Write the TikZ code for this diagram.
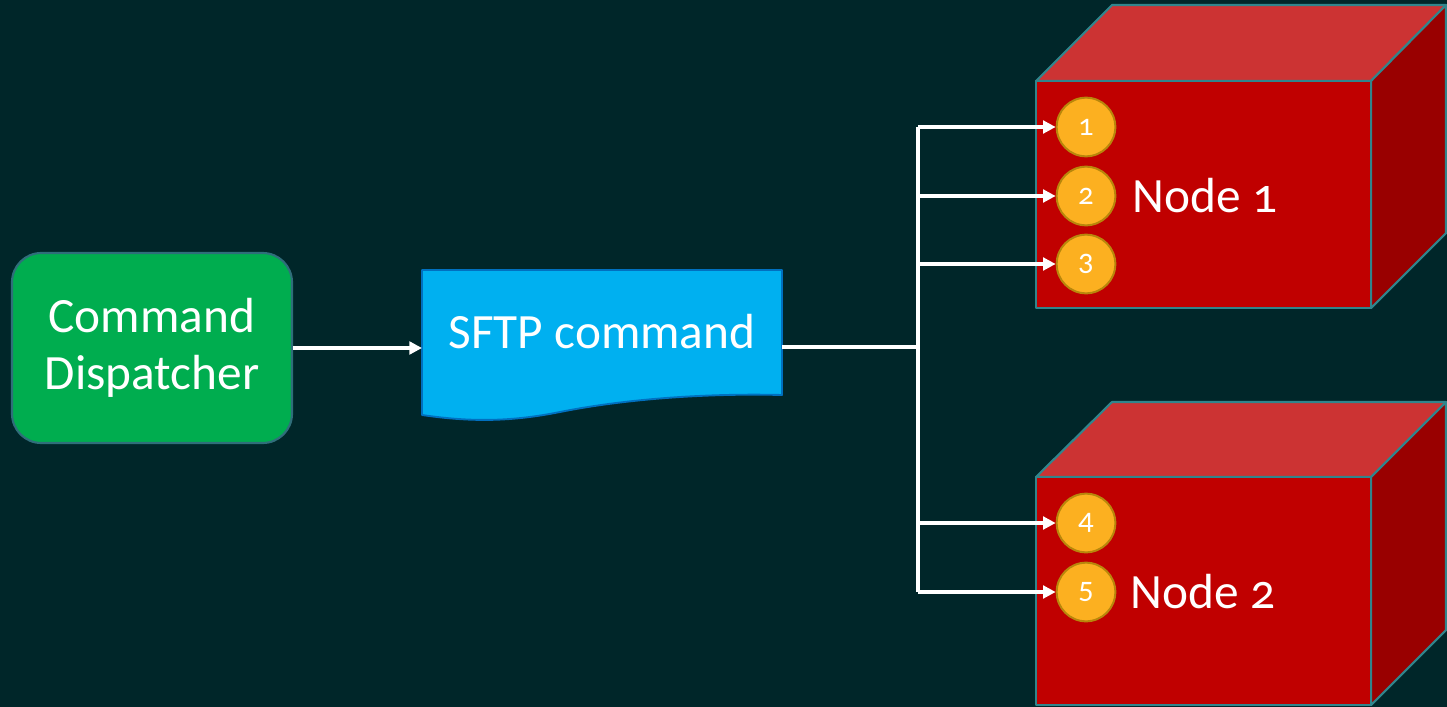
\documentclass[tikz,border=0pt]{standalone}
\usepackage{fontspec}
\setmainfont{Carlito}[Numbers=OldStyle]
\usetikzlibrary{arrows.meta}
\definecolor{bg}{RGB}{0,38,41}
\definecolor{greenbox}{RGB}{0,173,79}
\definecolor{greenedge}{RGB}{47,110,122}
\definecolor{docfill}{RGB}{0,176,240}
\definecolor{docedge}{RGB}{0,112,192}
\definecolor{cubefront}{RGB}{192,0,0}
\definecolor{cubetop}{RGB}{204,51,51}
\definecolor{cubeside}{RGB}{153,0,0}
\definecolor{cubeedge}{RGB}{49,133,140}
\definecolor{dotfill}{RGB}{252,176,32}
\definecolor{dotedge}{RGB}{184,134,11}
\tikzset{
  px/.style={x=0.75pt,y=-0.75pt},
  conn/.style={draw=white,line width=2.4pt},
  arr/.style={conn,-{Triangle[width=9.5pt,length=9.5pt]}},
  dot/.style={circle,fill=dotfill,draw=dotedge,line width=1.5pt,minimum size=44pt,inner sep=0pt,text=white,font=\fontsize{23}{25}\selectfont},
  cubeline/.style={draw=cubeedge,line width=1.6pt,line join=round},
  bigtext/.style={text=white,font=\fontsize{37}{43}\selectfont},
}
\begin{document}
\begin{tikzpicture}[px]
\fill[bg] (0,0) rectangle (1447,707);
\useasboundingbox (0,0) rectangle (1447,707);
% Command Dispatcher
\node[draw=greenedge,fill=greenbox,line width=1.6pt,rounded corners=22pt,minimum width=210pt,minimum height=142.5pt,align=center,bigtext] (cd) at (152,348) {Command\\Dispatcher};
% SFTP document
\path[fill=docfill,draw=docedge,line width=1.4pt,line join=round] (422,270) -- (782,270) -- (782,395)
  .. controls (700,393) and (620,400) .. (560,412)
  .. controls (510,422) and (470,422) .. (422,415) -- cycle;
\node[bigtext] (sftp) at (602,332) {SFTP command};
\coordinate (sftpin) at (422,348);
\coordinate (sftpout) at (782,347);
\coordinate (split) at (918,347);
% Cube 1
\path[fill=cubetop,cubeline] (1036,81) -- (1112,5) -- (1446,5) -- (1371,81) -- cycle;
\path[fill=cubeside,cubeline] (1371,81) -- (1446,5) -- (1446,233) -- (1371,308) -- cycle;
\path[fill=cubefront,cubeline] (1036,81) rectangle (1371,308);
% Cube 2
\path[fill=cubetop,cubeline] (1036,477) -- (1112,402) -- (1446,402) -- (1371,477) -- cycle;
\path[fill=cubeside,cubeline] (1371,477) -- (1446,402) -- (1446,630) -- (1371,705) -- cycle;
\path[fill=cubefront,cubeline] (1036,477) rectangle (1371,705);
\node[bigtext,anchor=west] (n1) at (1128,196) {Node 1};
\node[bigtext,anchor=west] (n2) at (1126,592) {Node 2};
% dots
\node[dot] (d1) at (1086,127) {1};
\node[dot] (d2) at (1086,196) {2};
\node[dot] (d3) at (1086,264) {3};
\node[dot] (d4) at (1086,523) {4};
\node[dot] (d5) at (1086,592) {5};
% connectors
\draw[arr] (cd.east) -- (sftpin);
\draw[conn] (sftpout) -- (split);
\draw[conn] (split |- d1) -- (split |- d5);
\draw[arr] (split |- d1) -- (d1.west);
\draw[arr] (split |- d2) -- (d2.west);
\draw[arr] (split |- d3) -- (d3.west);
\draw[arr] (split |- d4) -- (d4.west);
\draw[arr] (split |- d5) -- (d5.west);
\end{tikzpicture}
\end{document}
